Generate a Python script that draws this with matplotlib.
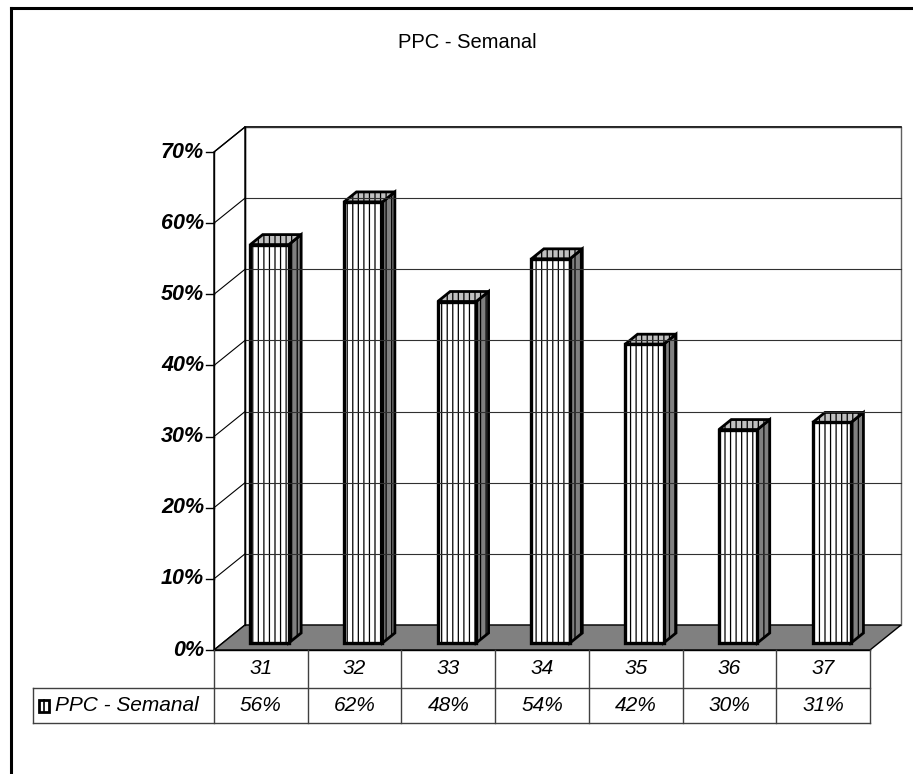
import numpy as np
import matplotlib.pyplot as plt
from matplotlib.patches import Polygon, Rectangle
from matplotlib.lines import Line2D

plt.rcParams['font.family'] = ['Liberation Sans', 'DejaVu Sans']
plt.rcParams['hatch.linewidth'] = 0.9

TITLE = 'PPC - Semanal'
SERIES = 'PPC - Semanal'
WEEKS = ['31', '32', '33', '34', '35', '36', '37']
PPC = [0.56, 0.62, 0.48, 0.54, 0.42, 0.30, 0.31]
YTICKS = [0.0, 0.1, 0.2, 0.3, 0.4, 0.5, 0.6, 0.7]

W, H = 913, 774
# front plane of the plot in pixels (left, right, y of 0%, y of 70%)
PX_L, PX_R, PX_0, PX_TOP = 214, 870, 650, 152
n = len(WEEKS)
ymax = YTICKS[-1]
ux = (PX_R - PX_L) / n            # px per category
uy = (PX_0 - PX_TOP) / ymax       # px per unit value

DX, DY = 31 / ux, 25 / uy          # wall depth offset in data units
F0, F1 = 0.28, 0.68                # bar front/back depth fraction
BW = 0.41                          # bar width (categories)

fig = plt.figure(figsize=(W / 100, H / 100), dpi=100)
ax = fig.add_axes([PX_L / W, 1 - PX_0 / H, (PX_R - PX_L) / W, (PX_0 - PX_TOP) / H])
ax.set_xlim(0, n)
ax.set_ylim(0, ymax)
ax.axis('off')

kw = dict(clip_on=False)

# walls
ax.add_patch(Polygon([(0, 0), (DX, DY), (DX, ymax + DY), (0, ymax)],
                     closed=True, facecolor='white', edgecolor='black', lw=1, **kw))
ax.add_patch(Polygon([(DX, DY), (n + DX, DY), (n + DX, ymax + DY), (DX, ymax + DY)],
                     closed=True, facecolor='white', edgecolor='#606060', lw=1, **kw))
ax.plot([DX, n + DX], [ymax + DY, ymax + DY], color='black', lw=1.2, **kw)
for v in YTICKS[1:]:
    ax.plot([DX, n + DX], [v + DY, v + DY], color='#303030', lw=0.8, **kw)
    ax.plot([0, DX], [v, v + DY], color='black', lw=0.8, **kw)
ax.plot([DX, DX], [DY, ymax + DY], color='black', lw=1, **kw)

# floor
ax.add_patch(Polygon([(0, 0), (n, 0), (n + DX, DY), (DX, DY)], closed=True,
                     facecolor='#808080', edgecolor='black', lw=1, **kw))

# y axis with ticks
ax.plot([0, 0], [0, ymax], color='black', lw=1, **kw)
tick = 8 / ux
for v in YTICKS:
    ax.plot([-tick, 0], [v, v], color='black', lw=1, **kw)
    ax.text(-tick - 2 / ux, v, f'{v:.0%}', ha='right', va='center',
            fontsize=15.5, fontweight='bold', fontstyle='italic')

# bars
for i, val in enumerate(PPC):
    x0 = i + 0.5 - BW / 2 + F0 * DX
    y0 = F0 * DY
    x1 = x0 + BW
    ddx = (F1 - F0) * DX
    ddy = (F1 - F0) * DY
    front = [(x0, y0), (x1, y0), (x1, y0 + val), (x0, y0 + val)]
    side = [(x1, y0), (x1 + ddx, y0 + ddy), (x1 + ddx, y0 + ddy + val), (x1, y0 + val)]
    top = [(x0, y0 + val), (x1, y0 + val), (x1 + ddx, y0 + ddy + val), (x0 + ddx, y0 + ddy + val)]
    ax.add_patch(Polygon(side, closed=True, facecolor='#808080', edgecolor='black',
                         hatch='|||', lw=2, joinstyle='miter', **kw))
    ax.add_patch(Polygon(top, closed=True, facecolor='#c0c0c0', edgecolor='black',
                         hatch='|||', lw=2, joinstyle='miter', **kw))
    ax.add_patch(Polygon(front, closed=True, facecolor='white', edgecolor='black',
                         hatch='|||', lw=2.4, joinstyle='miter', **kw))

# data table
r1 = 38 / uy
r2 = 35 / uy
xleg = (33 - PX_L) / ux
tc = '#404040'
ax.plot([0, n], [0, 0], color='black', lw=1, **kw)
ax.plot([0, n], [-r1, -r1], color=tc, lw=1, **kw)
ax.plot([xleg, 0], [-r1, -r1], color=tc, lw=1, **kw)
ax.plot([xleg, n], [-r1 - r2, -r1 - r2], color=tc, lw=1, **kw)
ax.plot([xleg, xleg], [-r1, -r1 - r2], color=tc, lw=1, **kw)
for k in range(n + 1):
    ax.plot([k, k], [0, -r1 - r2], color=tc, lw=1, **kw)
for i, (wk, val) in enumerate(zip(WEEKS, PPC)):
    ax.text(i + 0.5, -r1 / 2, wk, ha='center', va='center', fontsize=15,
            fontstyle='italic')
    ax.text(i + 0.5, -r1 - r2 / 2, f'{val:.0%}', ha='center', va='center',
            fontsize=15, fontstyle='italic')

# legend key in table
kx = (39 - PX_L) / ux
kw_ = 10 / ux
kh = 12 / uy
ky = -r1 - r2 / 2 - kh / 2
ax.add_patch(Rectangle((kx, ky), kw_, kh, facecolor='white', edgecolor='black',
                       lw=2, **kw))
ax.plot([kx + kw_ / 2, kx + kw_ / 2], [ky, ky + kh], color='black', lw=1.2, **kw)
ax.text(kx + kw_ + 6 / ux, -r1 - r2 / 2, SERIES, ha='left', va='center',
        fontsize=15, fontstyle='italic')

# title
fig.text(467 / W, 1 - 42 / H, TITLE, ha='center', va='center', fontsize=14.5)

# outer frame (only top and left edges visible)
fig.add_artist(Line2D([11 / W, 11 / W], [0, 1 - 7.5 / H], transform=fig.transFigure,
                      color='black', lw=2.2))
fig.add_artist(Line2D([11 / W, 1], [1 - 7.5 / H, 1 - 7.5 / H], transform=fig.transFigure,
                      color='black', lw=2.2))

fig.savefig('out.png', dpi=100)
